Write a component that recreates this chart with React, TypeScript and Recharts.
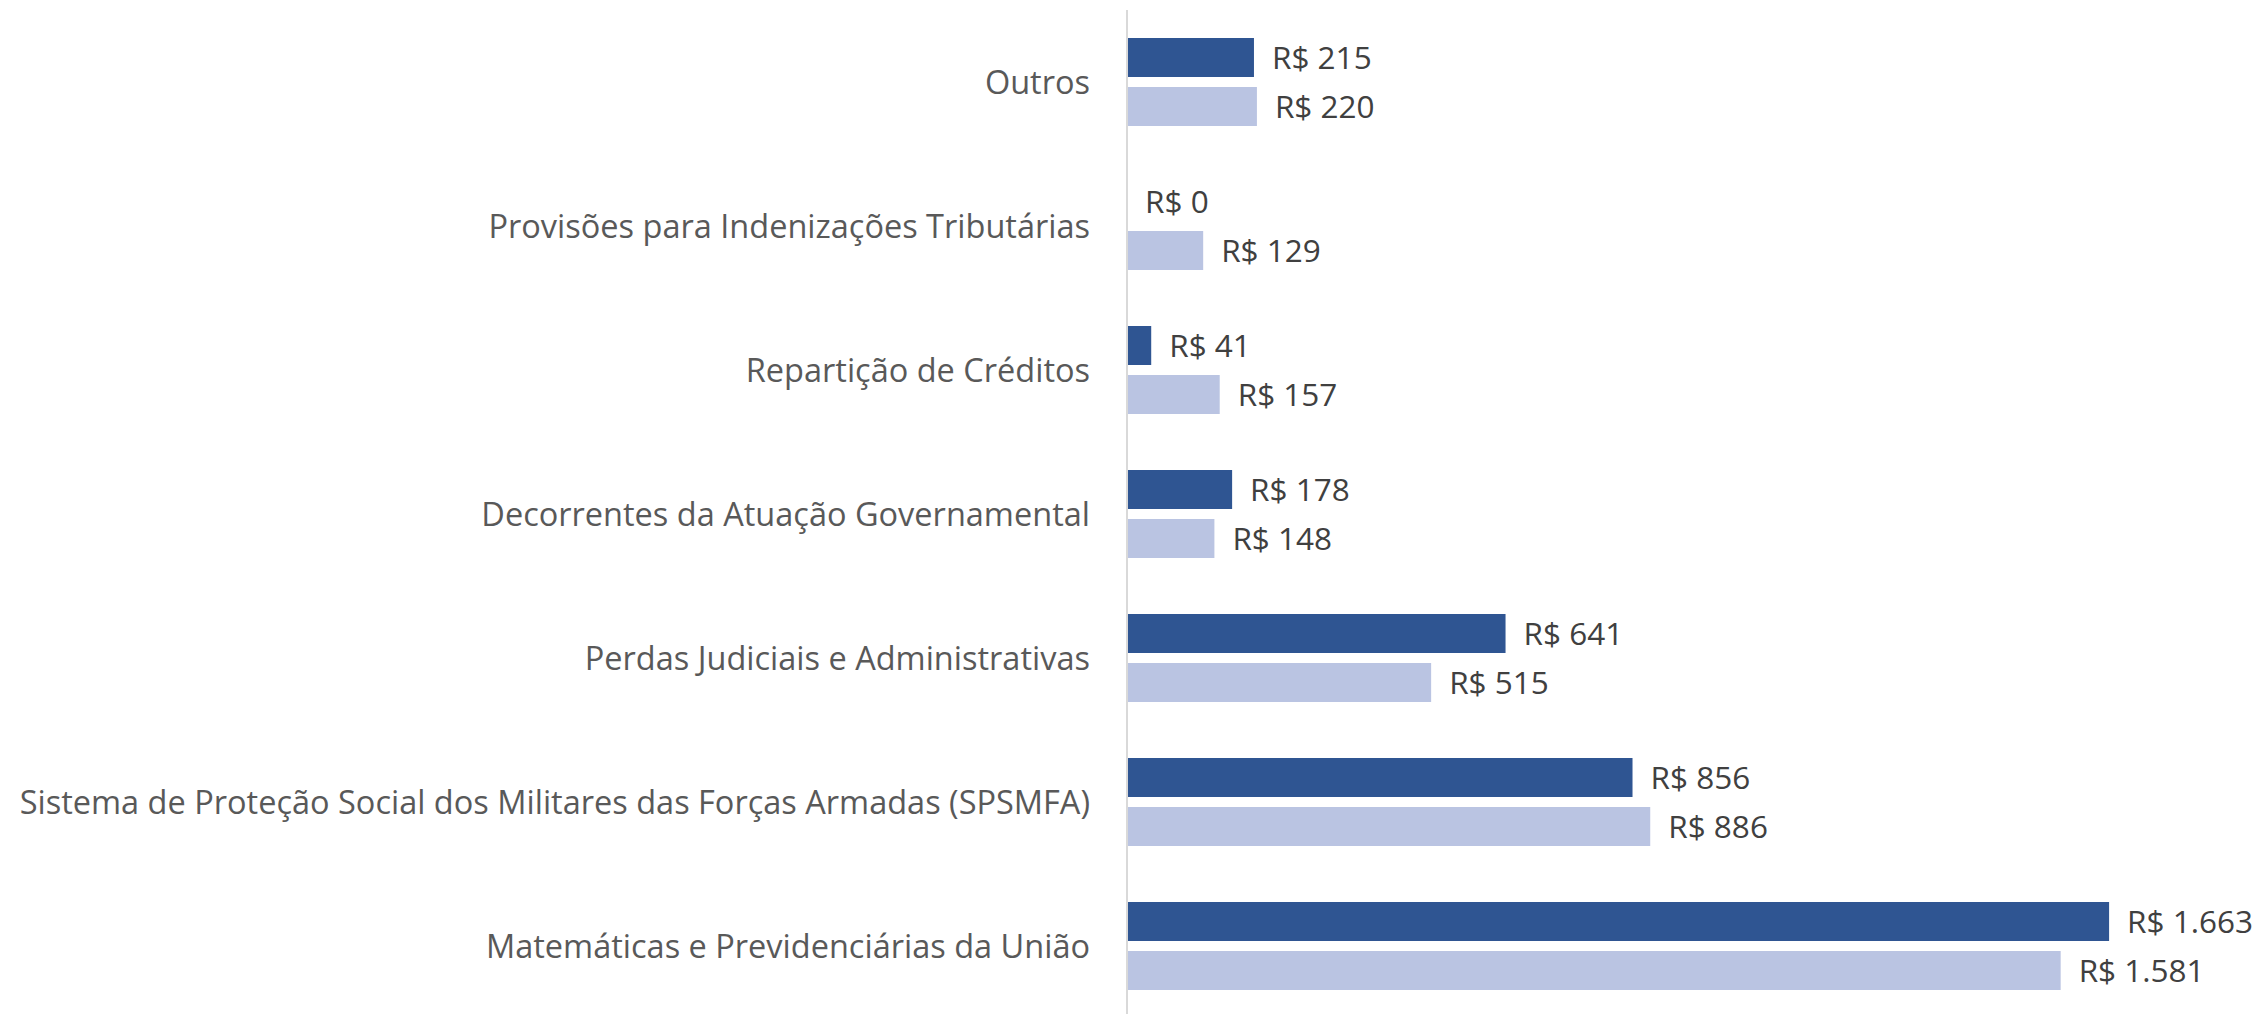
import { Bar, BarChart, LabelList, XAxis, YAxis } from "recharts";

const categories = [
  "Outros",
  "Provisões para Indenizações Tributárias",
  "Repartição de Créditos",
  "Decorrentes da Atuação Governamental",
  "Perdas Judiciais e Administrativas",
  "Sistema de Proteção Social dos Militares das Forças Armadas (SPSMFA)",
  "Matemáticas e Previdenciárias da União",
];
const atual = [215, 0, 41, 178, 641, 856, 1663];
const anterior = [220, 129, 157, 148, 515, 886, 1581];

const data = categories.map((name, i) => ({ name, atual: atual[i], anterior: anterior[i] }));

const font = "'Open Sans', sans-serif";
const fmt = (v: any) => "R$ " + Number(v).toLocaleString("pt-BR");

const ValueLabel = (props: any) => {
  const { x, y, width, height, value } = props;
  return (
    <text
      x={Number(x) + Math.max(0, Number(width || 0)) + 18}
      y={Number(y) + Number(height) / 2}
      dy="0.36em"
      fill="#404040"
      fontSize={31.5}
      fontFamily={font}
      textAnchor="start"
    >
      {fmt(value)}
    </text>
  );
};

export default function App() {
  return (
    <div style={{ width: 2264, height: 1014, background: "#fff" }}>
      <style>{`body{margin:0}`}</style>
      <BarChart
        width={2264}
        height={1014}
        data={data}
        layout="vertical"
        margin={{ top: 10, right: 74, bottom: -4, left: 0 }}
        barSize={39}
        barGap={10}
      >
        <XAxis type="number" domain={[0, 1800]} hide />
        <YAxis
          type="category"
          dataKey="name"
          width={1127}
          tickLine={false}
          tickSize={0}
          tickMargin={37}
          axisLine={{ stroke: "#d9d9d9", strokeWidth: 2 }}
          tick={{ fill: "#595959", fontSize: 32.5, fontFamily: font }}
          interval={0}
        />
        <Bar dataKey="atual" fill="#2f5592" minPointSize={0.01} isAnimationActive={false}>
          <LabelList dataKey="atual" content={ValueLabel} />
        </Bar>
        <Bar dataKey="anterior" fill="#bac4e2" isAnimationActive={false}>
          <LabelList dataKey="anterior" content={ValueLabel} />
        </Bar>
      </BarChart>
    </div>
  );
}
